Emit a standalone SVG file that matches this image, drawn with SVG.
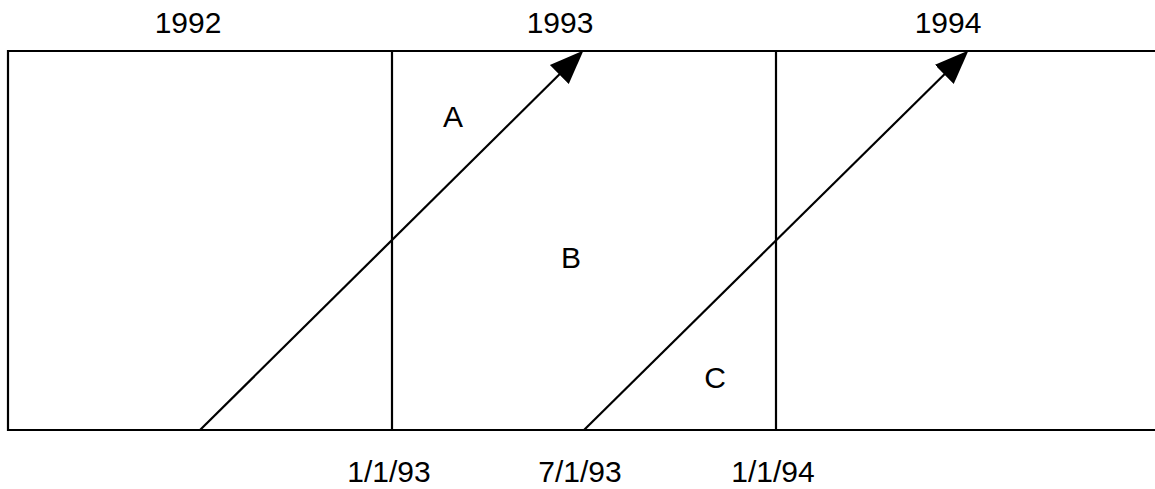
<svg xmlns="http://www.w3.org/2000/svg" width="1155" height="489" viewBox="0 0 1155 489">
<style>
  text { font-family: "Liberation Sans", Arial, sans-serif; font-size: 30px; fill: #000; text-anchor: middle; }
  .ln { stroke: #000; stroke-width: 2.2; fill: none; }
</style>
<defs>
  <marker id="ah" markerUnits="userSpaceOnUse" markerWidth="34" markerHeight="28" refX="12" refY="13" orient="auto" viewBox="0 0 33 26">
    <path d="M0,0 L33,13 L0,26 z" fill="#000"/>
  </marker>
</defs>
<rect width="1155" height="489" fill="#fff"/>
<g id="frame">
  <path class="ln" d="M1155,51 L8,51 L8,430 L1155,430"/>
  <line class="ln" x1="392" y1="51" x2="392" y2="430"/>
  <line class="ln" x1="776" y1="51" x2="776" y2="430"/>
</g>
<g id="labels-years">
  <text x="188" y="33">1992</text>
  <text x="560" y="33">1993</text>
  <text x="948" y="33">1994</text>
</g>
<g id="labels-dates">
  <text x="389" y="482">1/1/93</text>
  <text x="580" y="482">7/1/93</text>
  <text x="773" y="482">1/1/94</text>
</g>
<g id="region-A"><text x="453" y="127">A</text></g>
<g id="region-B"><text x="571" y="268">B</text></g>
<g id="region-C"><text x="715" y="388">C</text></g>
<g id="connectors">
  <line class="ln" x1="200" y1="430" x2="568.1" y2="65.8" marker-end="url(#ah)"/>
  <line class="ln" x1="584" y1="430" x2="953.1" y2="65.7" marker-end="url(#ah)"/>
</g>
</svg>
